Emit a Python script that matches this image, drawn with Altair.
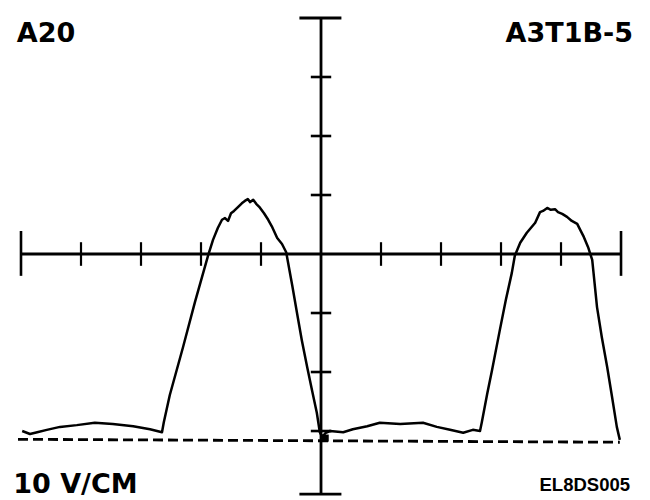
import altair as alt
import pandas as pd

# Trace: time in divisions (cm), voltage in V (10 V/CM)
trace_t = [-4.98, -4.85, -4.73, -4.57, -4.35, -4.07, -3.77, -3.47, -3.13, -2.85,
           -2.65, -2.62, -2.52, -2.30, -2.10, -1.88, -1.80, -1.72, -1.65, -1.60,
           -1.55, -1.50, -1.45, -1.38, -1.32, -1.27, -1.22, -1.18, -1.13, -1.08,
           -1.03, -0.95, -0.88, -0.82, -0.73, -0.65, -0.58, -0.55, -0.48, -0.40,
           -0.32, -0.23, -0.15, -0.07, -0.02, 0.02, 0.08, 0.15, 0.37, 0.53,
           0.77, 0.98, 1.32, 1.70, 1.93, 2.15, 2.37, 2.53, 2.65, 2.68,
           2.77, 2.85, 2.98, 3.08, 3.18, 3.23, 3.32, 3.43, 3.57, 3.65,
           3.70, 3.77, 3.83, 3.90, 3.95, 4.02, 4.10, 4.18, 4.27, 4.32,
           4.38, 4.45, 4.52, 4.60, 4.68, 4.77, 4.85, 4.93, 4.98]
trace_v = [-30.0, -30.5, -30.2, -29.8, -29.3, -29.0, -28.6, -28.8, -29.2, -29.7,
           -30.2, -28.5, -23.9, -15.8, -8.1, -0.2, 2.4, 4.4, 5.8, 6.1,
           5.6, 6.9, 7.3, 8.0, 8.6, 9.0, 9.3, 8.8, 9.2, 8.5,
           8.0, 6.9, 5.8, 4.7, 2.7, 1.7, 0.3, -1.4, -5.3, -10.0,
           -14.6, -19.2, -23.1, -26.9, -30.2, -31.0, -30.3, -30.0, -30.2, -29.7,
           -29.2, -28.6, -28.8, -28.6, -29.3, -29.8, -30.3, -29.8, -30.0, -28.5,
           -23.7, -19.7, -12.9, -7.8, -3.2, -0.3, 1.9, 3.6, 5.3, 7.1,
           7.3, 7.8, 7.5, 7.6, 7.1, 6.8, 6.3, 5.6, 5.1, 4.1,
           2.9, 1.2, -1.0, -9.0, -14.1, -19.2, -24.2, -29.3, -31.5]

# Dashed ground reference line
ref_t = [-5.05, 4.98]
ref_v = [-31.4, -31.9]

# Dark spot where the trace meets the ground line at the centre
spot_t = [0.07]
spot_v = [-31.2]

# Graticule
x_ticks = [-4, -3, -2, -1, 1, 2, 3, 4]
y_ticks = [-30, -20, -10, 10, 20, 30]
x_ends = [-5, 5]
y_ends = [-40, 40]

labels_left_top = "A20"
labels_right_top = "A3T1B-5"
label_scale = "10 V/CM"
label_code = "EL8DS005"

xs = alt.Scale(domain=[-5.35, 5.483], nice=False, zero=False)
ys = alt.Scale(domain=[-41.69, 43.05], nice=False, zero=False)

def X(f):
    return alt.X(f, type="quantitative", scale=xs, axis=None)

def Y(f):
    return alt.Y(f, type="quantitative", scale=ys, axis=None)

axes_df = pd.DataFrame({
    "x": [x_ends[0], 0], "x2": [x_ends[1], 0],
    "y": [0, -40.7], "y2": [0, y_ends[1]],
})
h_ticks = pd.DataFrame({"x": x_ticks, "x2": x_ticks,
                        "y": [-2.0] * len(x_ticks), "y2": [2.0] * len(x_ticks)})
h_caps = pd.DataFrame({"x": x_ends, "x2": x_ends, "y": [-3.7, -3.7], "y2": [3.9, 3.9]})
v_ticks = pd.DataFrame({"x": [-0.17] * len(y_ticks), "x2": [0.17] * len(y_ticks),
                        "y": y_ticks, "y2": y_ticks})
v_caps = pd.DataFrame({"x": [-0.36, -0.36], "x2": [0.34, 0.34], "y": [-40.7, 40], "y2": [-40.7, 40]})

def rules(df, w):
    return alt.Chart(df).mark_rule(color="black", strokeWidth=w).encode(
        x=X("x"), x2="x2", y=Y("y"), y2="y2")

trace_df = pd.DataFrame({"t": trace_t, "v": trace_v, "i": range(len(trace_t))})
trace = alt.Chart(trace_df).mark_line(color="black", strokeWidth=2.5,
                                      strokeJoin="round").encode(
    x=X("t"), y=Y("v"), order="i:Q")

ref_df = pd.DataFrame({"t": ref_t, "v": ref_v})
ref = alt.Chart(ref_df).mark_line(color="black", strokeWidth=2.8,
                                  strokeDash=[10, 5]).encode(x=X("t"), y=Y("v"))

spot_df = pd.DataFrame({"t": spot_t, "v": spot_v})
spot = alt.Chart(spot_df).mark_point(shape="square", filled=True, color="black",
                                     size=50, opacity=1).encode(x=X("t"), y=Y("v"))

def text(s, x, y, align, size, font):
    df = pd.DataFrame({"x": [x], "y": [y], "s": [s]})
    return alt.Chart(df).mark_text(align=align, baseline="alphabetic", font=font,
                                   fontSize=size, fontWeight="bold", color="black").encode(
        x=X("x"), y=Y("y"), text="s:N")

chart = alt.layer(
    rules(axes_df, 2.8),
    rules(h_ticks, 2.2),
    rules(h_caps, 2.6),
    rules(v_ticks, 2.6),
    rules(v_caps, 2.8),
    ref,
    trace,
    spot,
    text(labels_left_top, -5.07, 35.9, "left", 27, "DejaVu Sans"),
    text(labels_right_top, 5.2, 35.9, "right", 27, "DejaVu Sans"),
    text(label_scale, -5.13, -40.5, "left", 27, "DejaVu Sans"),
    text(label_code, 5.15, -40.2, "right", 18.5, "Liberation Sans"),
).properties(
    width=650, height=500, padding=0,
    autosize=alt.AutoSizeParams(type="none"),
    background="white",
).configure_view(stroke=None)

chart.save("out.html", embed_options={"renderer": "svg", "actions": False})
